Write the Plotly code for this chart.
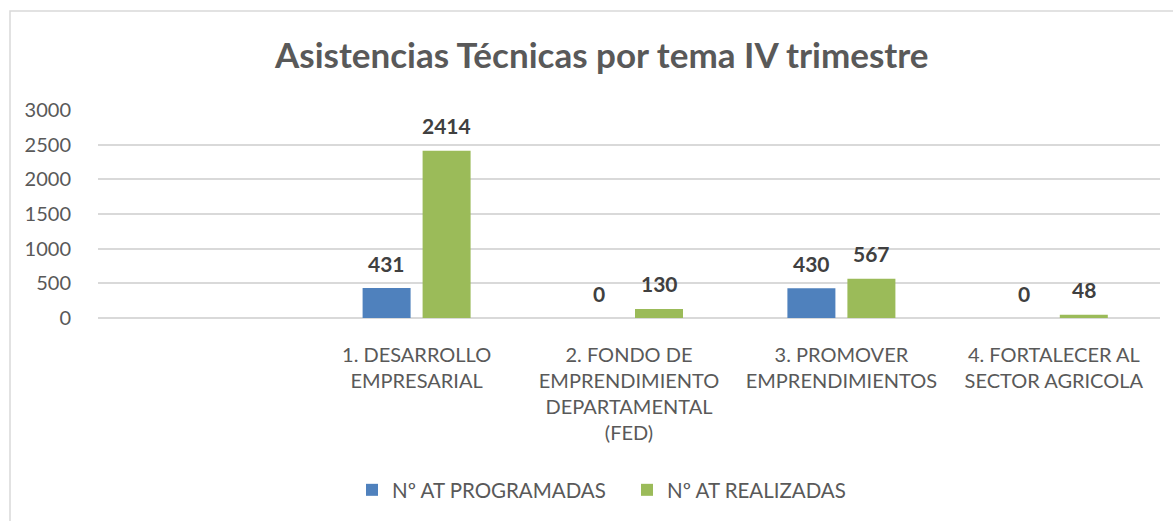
import plotly.graph_objects as go

categories = [" ", "1. DESARROLLO<br>EMPRESARIAL",
              "2. FONDO DE<br>EMPRENDIMIENTO<br>DEPARTAMENTAL<br>(FED)",
              "3. PROMOVER<br>EMPRENDIMIENTOS",
              "4. FORTALECER AL<br>SECTOR AGRICOLA"]
programadas = [None, 431, 0, 430, 0]
realizadas = [None, 2414, 130, 567, 48]
series_names = ["Nº AT PROGRAMADAS", "Nº AT REALIZADAS"]
y_ticks = [0, 500, 1000, 1500, 2000, 2500, 3000]

FONT = "Lato"
BLUE = "#4F81BD"
GREEN = "#9BBB59"
GRID = "#d9d9d9"
TXT = "#595959"

fig = go.Figure()
fig.add_trace(go.Bar(x=categories, y=programadas, name=series_names[0],
                     marker=dict(color=BLUE, line=dict(width=0)), hoverinfo="skip"))
fig.add_trace(go.Bar(x=categories, y=realizadas, name=series_names[1],
                     marker=dict(color=GREEN, line=dict(width=0)), hoverinfo="skip"))

annotations = []
for vals, shift in ((programadas, -30), (realizadas, 30)):
    for c, v in zip(categories, vals):
        if v is None:
            continue
        annotations.append(dict(x=c, y=v, xref="x", yref="y", text=f"<b>{v}</b>",
                                showarrow=False, xshift=shift, yshift=25,
                                yanchor="middle", xanchor="center",
                                font=dict(family=FONT, size=21, color="#404040")))

fig.update_layout(
    width=1173, height=521,
    margin=dict(l=98, r=13, t=110, b=203),
    paper_bgcolor="white", plot_bgcolor="white",
    barmode="group", bargap=0.435, bargroupgap=0.2,
    title=dict(text="<b>Asistencias Técnicas por tema IV trimestre</b>",
               x=0.513, xref="container", xanchor="center",
               y=1 - 56 / 521, yref="container", yanchor="middle",
               font=dict(family=FONT, size=35, color=TXT)),
    font=dict(family=FONT, color=TXT),
    showlegend=True,
    legend=dict(orientation="h", xref="container", yref="container",
                x=(352) / 1173, xanchor="left", y=1 - 490 / 521, yanchor="middle",
                font=dict(family=FONT, size=20.5, color=TXT),
                itemwidth=30, entrywidth=230, entrywidthmode="pixels",
                traceorder="normal"),
    annotations=annotations,
    xaxis=dict(type="category", showgrid=False, showline=False, zeroline=False,
               ticks="outside", ticklen=19, tickcolor="rgba(0,0,0,0)",
               tickfont=dict(family=FONT, size=20, color=TXT)),
    yaxis=dict(range=[0, 3000], tickvals=y_ticks, showgrid=True, gridcolor=GRID,
               gridwidth=1.5, zeroline=True, zerolinecolor=GRID, zerolinewidth=1.5,
               showline=False, ticks="outside", ticklen=22, tickcolor="rgba(0,0,0,0)",
               tickfont=dict(family=FONT, size=20, color=TXT)),
    shapes=[dict(type="rect", xref="paper", yref="paper",
                 x0=(10 - 98) / 1062, x1=(1190 - 98) / 1062,
                 y0=(318 - 540) / 208, y1=(318 - 11) / 208,
                 line=dict(color=GRID, width=1.5), fillcolor="rgba(0,0,0,0)", layer="below")],
)

fig.write_html("out.html")
